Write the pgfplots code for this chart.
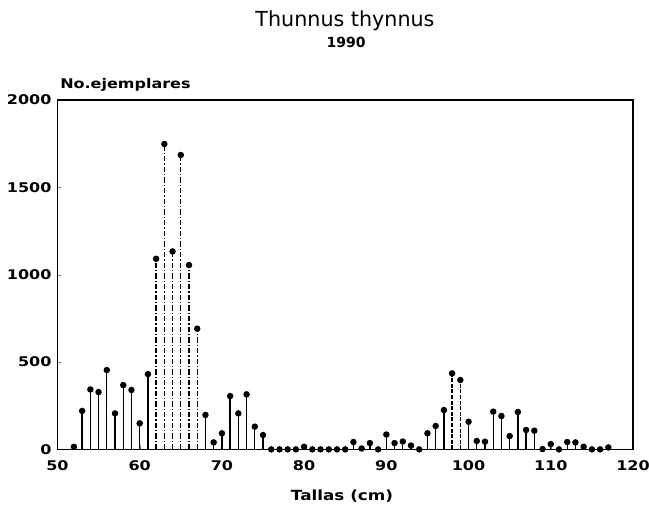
\documentclass[border=0pt]{standalone}
\usepackage{pgfplots}
\pgfplotsset{compat=1.18}
\usepackage{fontspec}
\setmainfont{DejaVu Sans}
\newfontfamily\plotfontb[FakeStretch=1.2]{DejaVu Sans Bold}
\newfontfamily\titlefont{DejaVu Sans}
\newfontfamily\yearfont{DejaVu Sans Bold}

\pgfplotstableread{
x y
52 15
53 220
54 343
55 328
56 454
57 206
58 368
59 340
60 149
61 431
68 197
69 40
70 92
71 305
72 206
73 315
74 130
75 82
76 0
77 0
78 0
79 0
80 15
81 0
82 0
83 0
84 0
85 0
86 42
87 5
88 36
89 0
90 85
91 36
92 45
93 22
94 0
95 92
96 134
97 225
100 158
101 48
102 44
103 216
104 191
105 76
106 214
107 111
108 107
109 2
110 30
111 0
112 42
113 40
114 15
115 0
116 0
117 11
}\lowdata

\pgfplotstableread{
x y
62 1091
63 1748
64 1133
65 1685
66 1055
67 691
}\highdata

\pgfplotstableread{
x y
98 435
99 397
}\middata

\begin{document}
\begin{tikzpicture}
\useasboundingbox (-43.1pt,-44.8pt) rectangle (443.6pt,337pt);
\begin{axis}[
  scale only axis,
  width=431.6pt, height=262pt,
  xmin=50, xmax=120, ymin=0, ymax=2000,
  xtick={50,60,...,120}, ytick={0,500,...,2000},
  tick align=inside, major tick length=3pt, tick pos=left,
  axis line style={line width=1pt},
  /pgf/number format/assume math mode=true,
  /pgf/number format/1000 sep={},
  ticklabel style={font=\plotfontb\fontsize{10}{12}\selectfont},
  xticklabel style={yshift=-5pt},
  yticklabel style={xshift=-1pt},
  clip=false,
]
\addplot[ycomb, black, line width=1pt, mark=*, mark size=1.9pt, mark options={solid, fill=black}] table[x=x,y=y] {\lowdata};
\addplot[ycomb, black, line width=1pt, dash pattern=on 4pt off 1.5pt on 1pt off 1.5pt, mark=*, mark size=1.9pt, mark options={solid, fill=black}] table[x=x,y=y] {\highdata};
\addplot[ycomb, black, line width=1pt, dash pattern=on 3pt off 1.2pt, mark=*, mark size=1.9pt, mark options={solid, fill=black}] table[x=x,y=y] {\middata};
\end{axis}
\node[anchor=base, inner sep=0pt, font=\titlefont\fontsize{15.5}{18}\selectfont] at (215.6pt,317pt) {Thunnus thynnus};
\node[anchor=base, inner sep=0pt, font=\yearfont\fontsize{10.5}{12}\selectfont] at (216.4pt,301.7pt) {1990};
\node[anchor=base west, inner sep=0pt, font=\plotfontb\fontsize{10}{12}\selectfont] at (1.9pt,270.8pt) {No.ejemplares};
\node[anchor=base, inner sep=0pt, font=\plotfontb\fontsize{10.5}{12}\selectfont] at (213.4pt,-38pt) {Tallas (cm)};
\end{tikzpicture}
\end{document}
